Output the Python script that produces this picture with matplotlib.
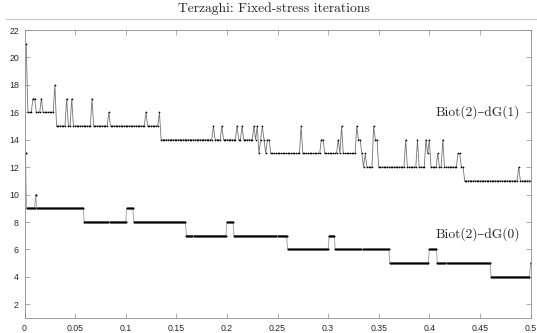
import numpy as np
import matplotlib
matplotlib.use("Agg")
import matplotlib.pyplot as plt
from matplotlib.lines import Line2D

t_end = 0.5
# number of time steps of each run
n_dg1 = 300
n_dg0 = 500

# Biot(2)-dG(1): step index where a new iteration count starts, and that count
dg1_k = [1, 2, 5, 7, 10, 11, 18, 19,
         25, 26, 28, 29, 40, 41, 50, 51,
         72, 73, 80, 81,
         112, 113, 117, 118, 126, 127, 129, 130,
         136, 137, 138, 139, 140, 141, 142, 143, 144, 146,
         164, 165, 176, 178, 186, 187, 188, 189,
         197, 198, 200, 201, 202, 203, 207, 208, 210,
         226, 227, 233, 234, 238, 239, 240, 241,
         245, 246, 248, 249, 257, 259, 261, 293, 294]
dg1_v = [21, 16, 17, 16, 17, 16, 18, 15,
         17, 15, 17, 15, 17, 15, 16, 15,
         16, 15, 16, 14,
         15, 14, 15, 14, 15, 14, 15, 14,
         15, 14, 15, 13, 14, 15, 14, 13, 14, 13,
         15, 13, 14, 13, 14, 13, 15, 13,
         15, 14, 13, 12, 13, 12, 15, 14, 12,
         14, 12, 14, 12, 14, 13, 14, 12,
         13, 12, 14, 12, 13, 12, 11, 12, 11]

# Biot(2)-dG(0)
dg0_k = [1, 2, 11, 12, 59, 101, 108, 160, 200, 207, 260, 301, 307, 361,
         400, 408, 461, 500]
dg0_v = [13, 9, 10, 9, 8, 9, 8, 7, 8, 7, 6, 7, 6, 5, 6, 5, 4, 5]


def expand(kc, vc, n):
    k = np.arange(1, n + 1)
    idx = np.searchsorted(np.array(kc), k, side="right") - 1
    return k * t_end / n, np.array(vc)[idx]


t1, it1 = expand(dg1_k, dg1_v, n_dg1)
t0, it0 = expand(dg0_k, dg0_v, n_dg0)

W, H = 537, 333
fig = plt.figure(figsize=(W / 100, H / 100), dpi=100)
ax = fig.add_axes([24.5 / W, 1 - 318 / H, 506 / W, 288 / H])

ax.plot(t1, it1, '-', color='0.45', lw=0.6, marker='.', ms=2.4,
        mfc='k', mec='k', mew=0)
ax.plot(t0, it0, '-', color='0.6', lw=0.6, marker='.', ms=3.0,
        mfc='k', mec='k', mew=0)

ax.set_xlim(0, 0.5)
ax.set_ylim(1, 22)
ax.set_xticks(np.arange(0, 0.501, 0.05))
ax.set_xticklabels(['0', '0.05', '0.1', '0.15', '0.2', '0.25', '0.3',
                    '0.35', '0.4', '0.45', '0.5'])
ax.set_yticks(np.arange(2, 23, 2))

spine_col = '#8c8c8c'
for s in ax.spines.values():
    s.set_color(spine_col)
    s.set_linewidth(0.6)
ax.tick_params(direction='in', top=True, right=True, length=3.5,
               width=0.5, color=spine_col, labelsize=6.3,
               labelcolor='#262626', pad=4)
for lab in ax.get_xticklabels() + ax.get_yticklabels():
    lab.set_family('Liberation Sans')

serif = ['cmr10', 'DejaVu Serif']
ax.text(0.49, 16, 'Biot(2)\u2013dG(1)', ha='right', va='center',
        fontsize=9.7, family=serif, color='#262626')
ax.text(0.49, 7.1, 'Biot(2)\u2013dG(0)', ha='right', va='center',
        fontsize=9.7, family=serif, color='#262626')

fig.text(273.5 / W, 1 - 9 / H, 'Terzaghi: Fixed-stress iterations',
         ha='center', va='center', fontsize=9.8, family=serif,
         color='#262626')
fig.add_artist(Line2D([6 / W, 1], [1 - 19 / H] * 2, transform=fig.transFigure,
                      color='#c8c8c8', lw=0.8))

fig.savefig('out.png', dpi=100)
